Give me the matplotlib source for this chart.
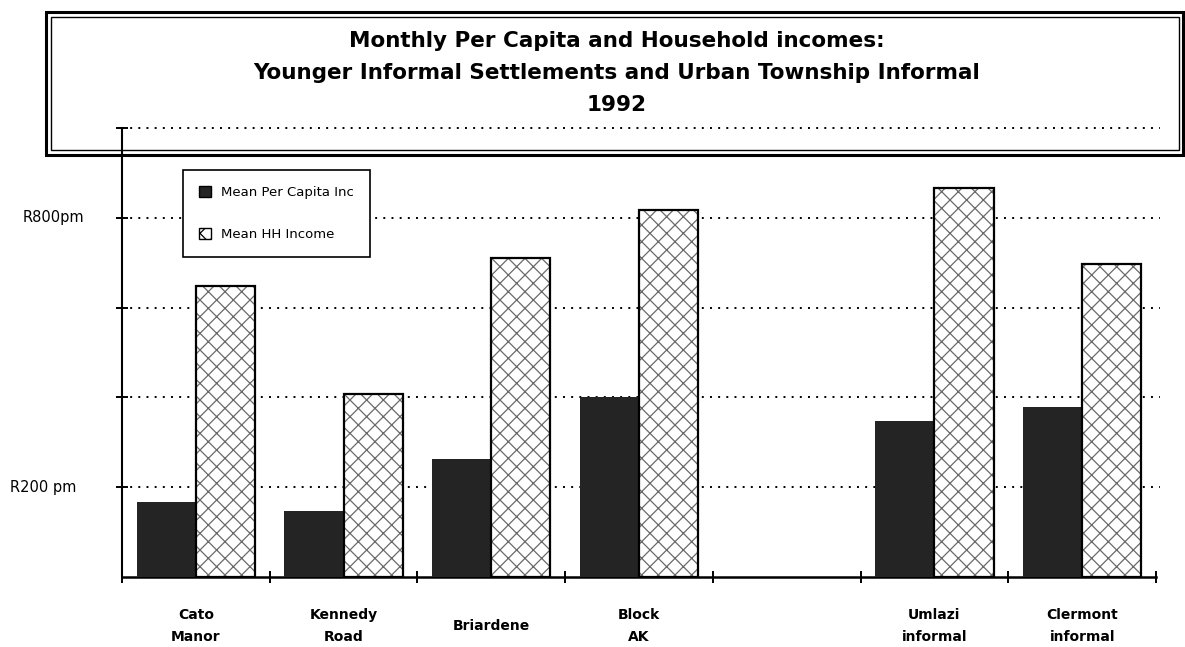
import matplotlib
matplotlib.use("Agg")
import matplotlib.pyplot as plt
import matplotlib.patches as patches
from matplotlib.transforms import blended_transform_factory
import numpy as np

# Data (Rand per month); blank slot between Block AK and Umlazi
categories = ["Cato\nManor", "Kennedy\nRoad", "Briardene", "Block\nAK", "",
              "Umlazi\ninformal", "Clermont\ninformal"]
per_capita = [167, 147, 263, 402, np.nan, 348, 379]
household = [647, 407, 711, 818, np.nan, 867, 697]
series_names = ["Mean Per Capita Inc", "Mean HH Income"]

grid_values = [200, 400, 600, 800, 1000]
ylabel_values = [200, 800]
ylabel_texts = ["R200 pm", "R800pm"]

title_lines = ["Monthly Per Capita and Household incomes:",
               "Younger Informal Settlements and Urban Township Informal",
               "1992"]

W, H = 1185, 647
plt.rcParams["hatch.linewidth"] = 0.9

fig = plt.figure(figsize=(W / 100, H / 100), dpi=100)
ax = fig.add_axes([122 / W, 1 - 577 / H, (1156 - 122) / W, (577 - 128) / H])

x = np.arange(len(categories)) + 0.5
bw = 0.4

# dark bars
ax.bar(x - bw / 2, per_capita, bw, color="#242424", zorder=3)
# hatched bars: gray hatch then a black outline on top
ax.bar(x + bw / 2, household, bw, facecolor="white", edgecolor="#6a6a6a",
       hatch="xx", linewidth=0, zorder=3)
ax.bar(x + bw / 2, household, bw, fill=False, edgecolor="black",
       linewidth=1.6, zorder=4)

# dotted gridlines
for gv in grid_values:
    ax.axhline(gv, xmin=0, xmax=1.004, color="black", lw=1.4,
               ls=(0, (1, 3.2)), zorder=1, clip_on=False)

ax.set_xlim(0, len(categories))
ax.set_ylim(0, 1000)
for side in ["top", "right"]:
    ax.spines[side].set_visible(False)
ax.spines["left"].set_linewidth(1.5)
ax.spines["bottom"].set_linewidth(1.8)

ax.set_yticks(grid_values)
ax.set_yticklabels([])
ax.set_xticks(np.arange(len(categories) + 1))
ax.set_xticklabels([])
ax.tick_params(direction="inout", length=8, width=1.4)

# y labels (left aligned in the margin)
ytrans = blended_transform_factory(fig.transFigure, ax.transData)
for xp, yv, txt in zip([10, 23], ylabel_values, ylabel_texts):
    ax.text(xp / W, yv, txt, transform=ytrans, ha="left", va="center",
            fontsize=10.5)

# category labels
xtrans = blended_transform_factory(ax.transData, fig.transFigure)
for xc, name in zip(x, categories):
    if name:
        ax.text(xc, 1 - 626 / H, name, transform=xtrans, ha="center",
                va="center", fontsize=10, fontweight="bold", linespacing=1.8)

# title with double-line box
for i, line in enumerate(title_lines):
    fig.text(617 / W, 1 - (41 + 32 * i) / H, line, ha="center", va="center",
             fontsize=15.5, fontweight="bold")
fig.add_artist(patches.Rectangle((46 / W, 1 - 155 / H), (1183 - 46) / W,
                                 (155 - 12) / H, transform=fig.transFigure,
                                 fill=False, lw=2.2, ec="black"))
fig.add_artist(patches.Rectangle((51 / W, 1 - 150 / H), (1179 - 51) / W,
                                 (150 - 17) / H, transform=fig.transFigure,
                                 fill=False, lw=1.0, ec="black"))

# legend
handles = [patches.Patch(facecolor="#242424", edgecolor="black"),
           patches.Patch(facecolor="white", edgecolor="black", hatch="xx")]
leg = ax.legend(handles, series_names, loc="upper left",
                bbox_to_anchor=(183 / W, 1 - 170 / H),
                bbox_transform=fig.transFigure, fancybox=False,
                edgecolor="black", framealpha=1, fontsize=9.5,
                handlelength=0.9, handleheight=0.9, labelspacing=2.2,
                borderpad=1.2, handletextpad=0.8, borderaxespad=0)
leg.get_frame().set_linewidth(1.2)
leg.set_zorder(5)

fig.savefig("out.png", dpi=100, facecolor="white")
